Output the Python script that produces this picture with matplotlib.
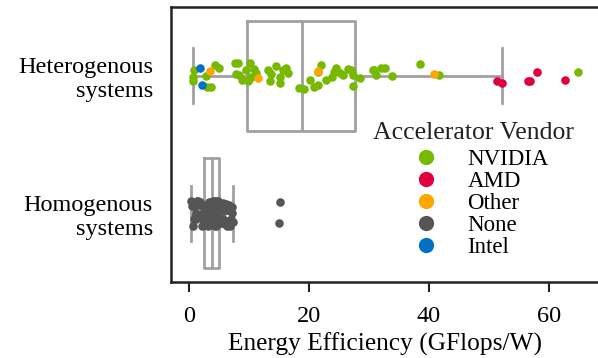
import numpy as np
import matplotlib
matplotlib.use("Agg")
import matplotlib.pyplot as plt
from matplotlib.lines import Line2D

plt.rcParams['font.family'] = ['Liberation Serif', 'DejaVu Serif']

categories = ["Heterogenous\nsystems", "Homogenous\nsystems"]
vendors = ["NVIDIA", "AMD", "Other", "None", "Intel"]
colors = {"NVIDIA": "#76b900", "AMD": "#e0003c", "Other": "#ffa500",
          "None": "#555555", "Intel": "#0071c5"}

# energy efficiency (GFlops/W) per system, by category and vendor
hetero_nvidia = [0.7, 0.7, 0.9, 2.8, 3.0, 3.7, 4.3, 5.0, 7.6, 7.8, 8.1, 8.3, 8.8, 9.5,
                 9.8, 10.1, 10.1, 10.3, 10.9, 11.2, 13.1, 13.5, 13.7, 14.5, 15.1, 15.1,
                 15.6, 16.2, 16.5, 18.4, 19.2, 20.1, 20.8, 21.5, 21.5, 22.0, 22.9, 23.9,
                 24.2, 24.5, 25.1, 25.6, 26.5, 27.0, 27.3, 27.3, 28.5, 30.6, 30.9, 31.2,
                 32.0, 32.6, 33.9, 38.5, 41.6, 64.9]
hetero_amd = [51.3, 52.2, 56.5, 56.9, 58.0, 62.7]
hetero_other = [3.5, 11.5, 21.5, 40.9]
hetero_intel = [1.9, 2.1]
homo_none = [0.4, 0.5, 0.7, 0.8, 0.9, 1.0, 1.1, 1.2, 1.3, 1.4, 1.5, 1.6, 1.7,
             1.8, 1.9, 2.0, 2.0, 2.1, 2.2, 2.2, 2.3, 2.4, 2.4, 2.5, 2.5, 2.55,
             2.65, 2.7, 2.75, 2.8, 2.85, 2.9, 3.0, 3.0, 3.1, 3.1, 3.2, 3.2, 3.3,
             3.3, 3.4, 3.4, 3.5, 3.5, 3.55, 3.6, 3.6, 3.65, 3.7, 3.7, 3.75,
             3.85, 3.9, 3.95, 4.0, 4.05, 4.1, 4.15, 4.2, 4.25, 4.3, 4.35, 4.4,
             4.45, 4.5, 4.55, 4.6, 4.65, 4.7, 4.75, 4.8, 4.85, 4.9, 4.9, 4.95, 4.95,
             5.05, 5.1, 5.2, 5.3, 5.4, 5.5, 5.6, 5.7, 5.8, 5.9, 6.0, 6.1, 6.2,
             6.3, 6.4, 6.5, 6.6, 6.7, 6.8, 6.9, 7.0, 7.1, 7.2, 7.3, 15.0, 15.2]

groups = {
    0: {"NVIDIA": hetero_nvidia, "AMD": hetero_amd, "Other": hetero_other, "Intel": hetero_intel},
    1: {"None": homo_none},
}

fig = plt.figure(figsize=(5.98, 3.58), dpi=100)
ax = fig.add_axes([171 / 598, 76 / 358, 429 / 598, 275 / 358])

box_data = [sum(groups[i].values(), []) for i in range(2)]
gray = "#a0a0a0"
lp = dict(color=gray, linewidth=2)
ax.boxplot(box_data, positions=[0, 1], widths=0.8, vert=False, showfliers=False,
           boxprops=lp, whiskerprops=lp, capprops=lp, medianprops=lp)

# strip plot on top, with a small vertical jitter
rng = np.random.RandomState(3)
for v in vendors:
    for pos, g in groups.items():
        if v in g:
            vals = np.array(g[v])
            jit = rng.uniform(-0.1, 0.1, len(vals))
            ax.scatter(vals, pos + jit, s=38, color=colors[v], linewidths=0, zorder=3)

ax.set_xlim(-3, 68.5)
ax.set_ylim(1.5, -0.5)
ax.set_yticks([0, 1])
ax.set_yticklabels(categories, fontsize=17.5)
ax.set_xticks([0, 20, 40, 60])
ax.tick_params(axis='x', labelsize=17.5, length=7, width=1.5, color="#222222", pad=10)
ax.tick_params(axis='y', length=0, pad=13)
for s in ax.spines.values():
    s.set_linewidth(1.8)
    s.set_color("#222222")
ax.set_xlabel("Energy Efficiency (GFlops/W)", fontsize=18.3, labelpad=4)

handles = [Line2D([], [], marker='o', linestyle='none', markersize=11,
                  markerfacecolor=colors[v], markeredgewidth=0) for v in vendors]
leg = ax.legend(handles, vendors, frameon=False, fontsize=16.5, labelspacing=0.05,
                loc='center', bbox_to_anchor=(476 / 598, 1 - 203.5 / 358),
                bbox_transform=fig.transFigure)
fig.text(473.5 / 598, 1 - 133 / 358, "Accelerator Vendor", fontsize=18.5,
         ha='center', va='center', color="#222222")

fig.savefig("out.png", dpi=100)
